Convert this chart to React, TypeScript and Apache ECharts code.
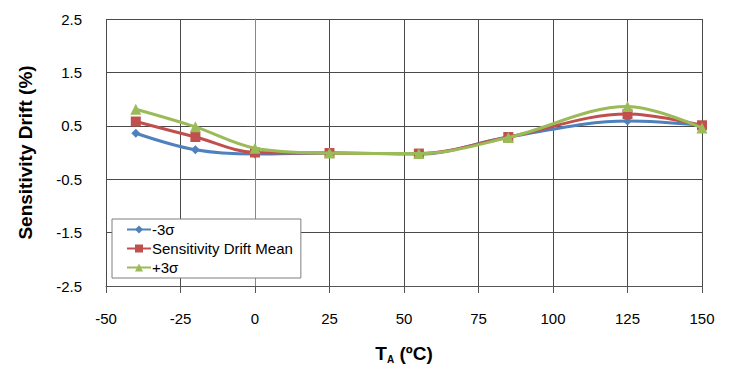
import React, { useEffect, useRef } from "react";
import * as echarts from "echarts";

const temps = [-40, -20, 0, 25, 55, 85, 125, 150];
const minus3Sigma = [0.36, 0.05, -0.03, -0.01, -0.03, 0.29, 0.59, 0.51];
const driftMean = [0.58, 0.29, 0.0, -0.01, -0.02, 0.29, 0.72, 0.51];
const plus3Sigma = [0.81, 0.48, 0.08, -0.01, -0.02, 0.28, 0.86, 0.46];
const seriesNames = ["-3σ", "Sensitivity Drift Mean", "+3σ"];
const yMin = -2.5;
const yMax = 2.5;
const yStep = 1;
const xMin = -50;
const xMax = 150;
const xStep = 25;

export default function App() {
  const ref = useRef<HTMLDivElement>(null);
  useEffect(() => {
    if (!ref.current) return;
    const chart = echarts.init(ref.current, undefined, { renderer: "svg" });
    const off = -yMin; // shift so ticks start at a multiple of the interval
    const toPairs = (vals: number[]) => temps.map((t, i) => [t, vals[i] + off]);
    const colors = ["#4F81BD", "#C0504D", "#9BBB59"];
    const symbols = ["diamond", "rect", "triangle"];
    const sizes = [9, 10, 11];
    const datas = [minus3Sigma, driftMean, plus3Sigma];
    const font = "Arial, 'Liberation Sans', sans-serif";
    chart.setOption({
      animation: false,
      textStyle: { fontFamily: font },
      grid: { left: 106, right: 27, top: 19, bottom: 81, containLabel: false },
      legend: {
        orient: "vertical",
        left: 112,
        top: 219,
        backgroundColor: "#ffffff",
        borderColor: "#7f7f7f",
        borderWidth: 1,
        borderRadius: 0,
        padding: [3, 8, 3, 14],
        itemWidth: 24,
        itemHeight: 10,
        itemGap: 4,
        textStyle: { fontSize: 15, color: "#000", fontFamily: font, padding: [0, 0, 0, -4] },
        data: seriesNames,
      },
      xAxis: {
        type: "value",
        min: xMin,
        max: xMax,
        interval: xStep,
        name: "{b|T}{s|A}{b| (ºC)}",
        nameLocation: "middle",
        nameGap: 57,
        nameTextStyle: {
          rich: {
            b: { fontSize: 19, fontWeight: "bold", color: "#000", fontFamily: font },
            s: { fontSize: 10, fontWeight: "bold", color: "#000", fontFamily: font, padding: [11, 0, 0, 0] },
          },
        },
        axisLine: { show: true, lineStyle: { color: "#555", width: 1 } },
        axisTick: { show: true, inside: false, length: 7, lineStyle: { color: "#555" } },
        axisLabel: { fontSize: 15, color: "#000", margin: 25, fontFamily: font },
        splitLine: { show: true, lineStyle: { color: "#4a4a4a", width: 1 } },
      },
      yAxis: {
        type: "value",
        min: yMin + off,
        max: yMax + off,
        interval: yStep,
        name: "Sensitivity Drift (%)",
        nameLocation: "middle",
        nameGap: 71,
        nameTextStyle: { fontSize: 19, fontWeight: "bold", color: "#000", fontFamily: font },
        axisLine: { show: true, lineStyle: { color: "#888", width: 1 } },
        axisTick: { show: true, inside: false, length: 9, lineStyle: { color: "#555" } },
        axisLabel: {
          fontSize: 15,
          color: "#000",
          margin: 24,
          fontFamily: font,
          formatter: (v: number) => (v - off).toFixed(1),
        },
        splitLine: { show: true, lineStyle: { color: "#4a4a4a", width: 1 } },
      },
      series: seriesNames.map((name, i) => ({
        name,
        type: "line",
        smooth: 0.35,
        data: toPairs(datas[i]),
        symbol: symbols[i],
        symbolSize: sizes[i],
        showSymbol: true,
        itemStyle: { color: colors[i] },
        lineStyle: { color: colors[i], width: 3 },
        z: 2 + i,
      })),
    });
    return () => chart.dispose();
  }, []);
  return (
    <div
      ref={ref}
      style={{ position: "fixed", left: 0, top: 0, width: 729, height: 369, background: "#fff" }}
    />
  );
}
